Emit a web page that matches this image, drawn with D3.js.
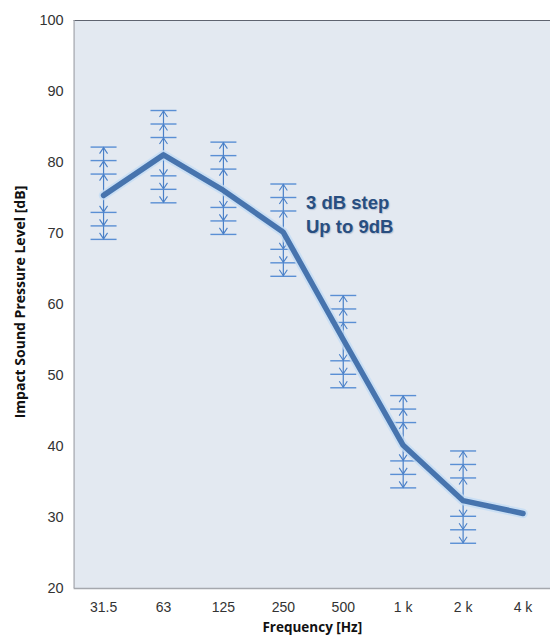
<!DOCTYPE html>
<html>
<head>
<meta charset="utf-8">
<script src="https://cdn.jsdelivr.net/npm/d3@7"></script>
<style>
  html, body { margin: 0; padding: 0; background: #ffffff; }
  svg { display: block; }
</style>
</head>
<body>
<script>
// ---- data ----
const categories = ["31.5", "63", "125", "250", "500", "1 k", "2 k", "4 k"];
const levels = [75.3, 81.0, 76.0, 70.1, 55.0, 40.1, 32.3, 30.5];
// error-bar centres (categories with error bars) and their step offsets in dB
const errCategories = ["31.5", "63", "125", "250", "500", "1 k", "2 k"];
const errCenters = [75.6, 80.75, 76.3, 70.4, 54.7, 40.6, 32.8];
const errSteps = [2.7, 4.6, 6.5];
const yTicks = [20, 30, 40, 50, 60, 70, 80, 90, 100];
const annotationLines = ["3 dB step", "Up to 9dB"];
const xTitle = "Frequency [Hz]";
const yTitle = "Impact Sound Pressure Level [dB]";

// ---- layout ----
const W = 550, H = 636;
const plot = { left: 73.6, right: 553, top: 20, bottom: 588 };

const svg = d3.select("body").append("svg").attr("width", W).attr("height", H);

const x = d3.scaleBand().domain(categories).range([plot.left, plot.right]).padding(0);
const cx = c => x(c) + x.bandwidth() / 2;
const y = d3.scaleLinear().domain([20, 100]).range([plot.bottom, plot.top]);

// plot background
svg.append("rect")
  .attr("x", plot.left).attr("y", plot.top)
  .attr("width", plot.right - plot.left).attr("height", plot.bottom - plot.top)
  .attr("fill", "#e3e9f1");

// frame lines
svg.append("line").attr("x1", plot.left).attr("x2", plot.right)
  .attr("y1", plot.top + 0.5).attr("y2", plot.top + 0.5)
  .attr("stroke", "#5f6470").attr("stroke-width", 1.2);
svg.append("line").attr("x1", plot.left + 0.5).attr("x2", plot.left + 0.5)
  .attr("y1", plot.top).attr("y2", plot.bottom)
  .attr("stroke", "#a5a8ae").attr("stroke-width", 1.2);
svg.append("line").attr("x1", plot.left).attr("x2", plot.right)
  .attr("y1", plot.bottom + 0.5).attr("y2", plot.bottom + 0.5)
  .attr("stroke", "#a5a8ae").attr("stroke-width", 1.5);

// y axis labels
const yAxis = d3.axisLeft(y).tickValues(yTicks).tickSize(0).tickPadding(10);
const gy = svg.append("g").attr("transform", `translate(${plot.left},0)`).call(yAxis);
gy.select(".domain").remove();
gy.selectAll("text")
  .attr("font-family", "Liberation Sans, Arial, sans-serif")
  .attr("font-size", 14.5).attr("fill", "#333333");

// x axis labels
const xAxis = d3.axisBottom(x).tickSize(0).tickPadding(14);
const gx = svg.append("g").attr("transform", `translate(0,${plot.bottom})`).call(xAxis);
gx.select(".domain").remove();
gx.selectAll("text")
  .attr("font-family", "Liberation Sans, Arial, sans-serif")
  .attr("font-size", 14).attr("fill", "#333333");

// axis titles
svg.append("text")
  .attr("x", (plot.left + 551) / 2).attr("y", 632)
  .attr("text-anchor", "middle")
  .attr("font-family", "Open Sans, Liberation Sans, sans-serif")
  .attr("font-weight", "bold").attr("font-size", 13.5).attr("fill", "#111")
  .text(xTitle);
svg.append("text")
  .attr("transform", `translate(25,${302}) rotate(-90)`)
  .attr("text-anchor", "middle")
  .attr("font-family", "Open Sans, Liberation Sans, sans-serif")
  .attr("font-weight", "bold").attr("font-size", 14).attr("fill", "#111")
  .text(yTitle);

// error bars
const errColor = "#4a80c8";
const eb = svg.append("g");
errCategories.forEach((c, i) => {
  const xc = cx(c);
  const ctr = errCenters[i];
  const topV = ctr + errSteps[errSteps.length - 1];
  const botV = ctr - errSteps[errSteps.length - 1];
  eb.append("line").attr("x1", xc).attr("x2", xc)
    .attr("y1", y(topV)).attr("y2", y(botV))
    .attr("stroke", errColor).attr("stroke-width", 1.2);
  errSteps.forEach(s => {
    [1, -1].forEach(dir => {
      const yy = y(ctr + dir * s);
      eb.append("line").attr("x1", xc - 13).attr("x2", xc + 13)
        .attr("y1", yy).attr("y2", yy)
        .attr("stroke", "#5a8fd4").attr("stroke-width", 1.4);
      const off = dir * 6.5;
      eb.append("path")
        .attr("d", `M${xc - 4},${yy + off} L${xc},${yy + dir * 0.5} L${xc + 4},${yy + off}`)
        .attr("fill", "none").attr("stroke", errColor).attr("stroke-width", 1.1);
    });
  });
});

// main line with glow
const lineGen = d3.line().x((d, i) => cx(categories[i])).y(d => y(d));
svg.append("path").datum(levels)
  .attr("d", lineGen).attr("fill", "none")
  .attr("stroke", "#c3dcf5").attr("stroke-width", 9.5)
  .attr("stroke-linejoin", "round").attr("stroke-linecap", "round").attr("opacity", 0.8);
svg.append("path").datum(levels)
  .attr("d", lineGen).attr("fill", "none")
  .attr("stroke", "#4774ae").attr("stroke-width", 5.5)
  .attr("stroke-linejoin", "round").attr("stroke-linecap", "round");

// annotation
const ann = svg.append("text")
  .attr("font-family", "Liberation Sans, Arial, sans-serif")
  .attr("font-weight", "bold").attr("font-size", 18.5).attr("fill", "#284e80")
  .style("text-shadow", "1px 1px 1px rgba(120,140,170,0.45)");
annotationLines.forEach((t, i) => {
  ann.append("tspan").attr("x", 306).attr("y", 209 + i * 23.5).text(t);
});
</script>
</body>
</html>
